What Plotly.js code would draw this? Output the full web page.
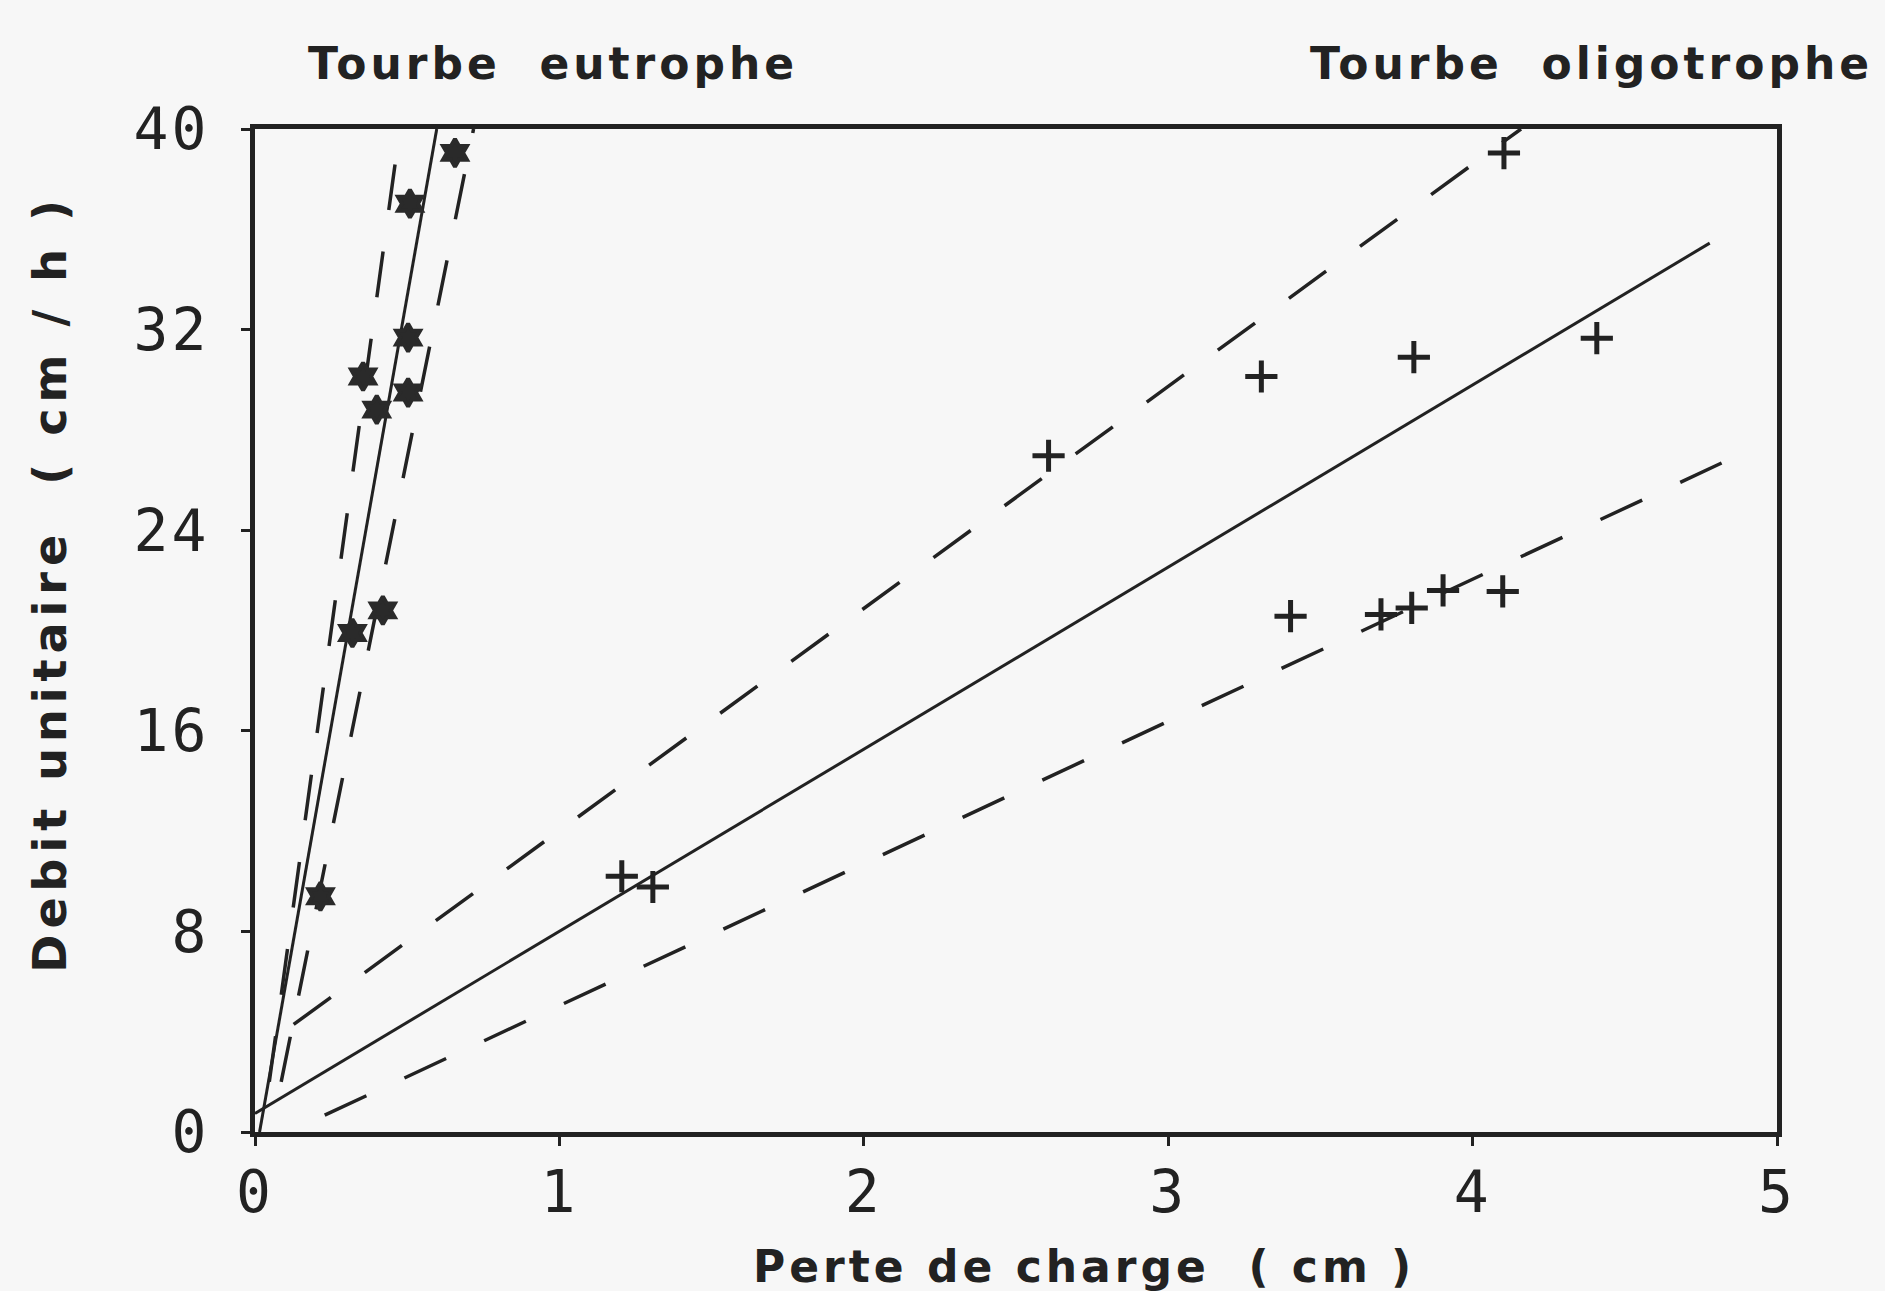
<!DOCTYPE html>
<html><head><meta charset="utf-8">
<script src="https://cdn.plot.ly/plotly-3.0.1.min.js"></script>
<style>html,body{margin:0;padding:0;background:#f7f7f7;}</style>
</head><body>
<div id="chart" style="width:1885px;height:1291px;"></div>
<script>
// Tourbe eutrophe: measured points
const eutropheX = [0.657, 0.509, 0.503, 0.355, 0.503, 0.400, 0.420, 0.320, 0.215];
const eutropheY = [39.05, 37.02, 31.68, 30.13, 29.49, 28.81, 20.8, 19.9, 9.4];
// Tourbe oligotrophe: measured points
const oligoX = [1.205, 1.307, 2.607, 3.306, 3.807, 4.408, 4.103, 3.402, 3.699, 3.800, 3.903, 4.099];
const oligoY = [10.2, 9.77, 26.97, 30.13, 30.9, 31.66, 39.04, 20.57, 20.64, 20.9, 21.6, 21.56];
// Regression lines and bands (end points)
const eutFitX = [0.015, 0.597], eutFitY = [0, 40];
const eutUpperX = [0.047, 0.476], eutUpperY = [2, 40];
const eutLowerX = [0.086, 0.718], eutLowerY = [2, 40];
const oliFitX = [0, 4.779], oliFitY = [0.74, 35.45];
const oliUpperX = [0.127, 4.159], oliUpperY = [4.29, 40];
const oliLowerX = [0.229, 4.818], oliLowerY = [0.67, 26.68];
// Axes ticks
const xTickVals = [0, 1, 2, 3, 4, 5];
const xTickText = ['0', '1', '2', '3', '4', '5'];
const yTickVals = [0, 8, 16, 24, 32, 40];
const yTickText = ['0', '8', '16', '24', '32', '40'];

const ink = '#222222';
const dashPat = '46px,42px';
const lineTrace = (x, y, dash, w) => ({x, y, type: 'scatter', mode: 'lines',
  line: {color: ink, width: w, dash: dash}, hoverinfo: 'skip', showlegend: false});

const data = [
  lineTrace(eutFitX, eutFitY, 'solid', 3),
  lineTrace(eutUpperX, eutUpperY, dashPat, 3.5),
  lineTrace(eutLowerX, eutLowerY, dashPat, 3.5),
  lineTrace(oliFitX, oliFitY, 'solid', 3),
  lineTrace(oliUpperX, oliUpperY, dashPat, 3.5),
  lineTrace(oliLowerX, oliLowerY, dashPat, 3.5),
  {x: eutropheX, y: eutropheY, type: 'scatter', mode: 'markers', name: 'Tourbe eutrophe',
   cliponaxis: false, showlegend: false,
   marker: {symbol: 'hexagram', size: 21, color: '#2a2a2a', line: {width: 4, color: '#2a2a2a'}}},
  {x: oligoX, y: oligoY, type: 'scatter', mode: 'markers', name: 'Tourbe oligotrophe',
   cliponaxis: false, showlegend: false,
   marker: {symbol: 'cross-thin', size: 23, color: ink, line: {width: 5, color: ink}}}
];

const boldFont = (s) => ({family: 'DejaVu Sans, sans-serif', size: s, color: ink, weight: 700});

const layout = {
  width: 1885, height: 1291,
  margin: {l: 255, r: 108, t: 129, b: 159},
  paper_bgcolor: '#f7f7f7', plot_bgcolor: '#f7f7f7',
  showlegend: false,
  xaxis: {range: [0, 5], tickvals: xTickVals, ticktext: xTickText,
    showgrid: false, zeroline: false, showline: true, mirror: true,
    linecolor: ink, linewidth: 5, ticks: 'outside', ticklen: 9, tickwidth: 3, tickcolor: ink,
    ticklabelstandoff: -4,
    tickfont: {family: 'DejaVu Sans Mono, monospace', size: 58, color: ink}},
  yaxis: {range: [0, 40], tickvals: yTickVals, ticktext: yTickText,
    showgrid: false, zeroline: false, showline: true, mirror: true,
    linecolor: ink, linewidth: 5, ticks: 'outside', ticklen: 9, tickwidth: 3, tickcolor: ink,
    ticklabelstandoff: 20,
    tickfont: {family: 'DejaVu Sans Mono, monospace', size: 58, color: ink}},
  annotations: [
    {text: 'Tourbe  eutrophe', xref: 'paper', yref: 'paper', x: 0.196, y: 1.065,
     xanchor: 'center', yanchor: 'middle', showarrow: false, font: boldFont(44)},
    {text: 'Tourbe  oligotrophe', xref: 'paper', yref: 'paper', x: 0.878, y: 1.065,
     xanchor: 'center', yanchor: 'middle', showarrow: false, font: boldFont(44)},
    {text: 'Perte de charge  ( cm )', xref: 'paper', yref: 'paper', x: 0.545, y: -0.134,
     xanchor: 'center', yanchor: 'middle', showarrow: false, font: boldFont(44)},
    {text: 'Debit unitaire  ( cm / h )', xref: 'paper', yref: 'paper', x: -0.1344, y: 0.547,
     xanchor: 'center', yanchor: 'middle', textangle: -90, showarrow: false, font: boldFont(46)}
  ]
};

Plotly.newPlot('chart', data, layout, {displayModeBar: false, staticPlot: true}).then(() => {
  const sp = ['4px', '4px', '4px', '6px'];
  document.querySelectorAll('.annotation-text').forEach((el, i) => {
    el.style.letterSpacing = sp[i] || '4px';
  });
  document.querySelectorAll('.xtick text, .ytick text').forEach(el => {
    el.style.letterSpacing = '3px';
  });
});
</script>
</body></html>
